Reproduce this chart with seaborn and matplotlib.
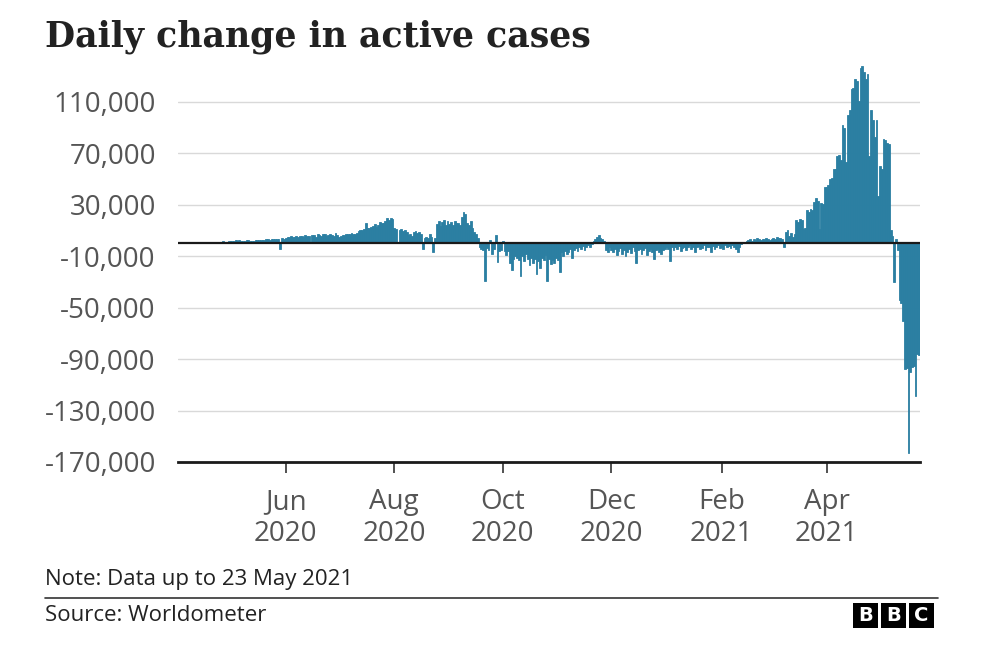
import numpy as np
import pandas as pd
import matplotlib
matplotlib.use("Agg")
import matplotlib.pyplot as plt
import seaborn as sns
from matplotlib.patches import Rectangle
from matplotlib.lines import Line2D

# ---- Daily change in active cases, 2 Apr 2020 - 23 May 2021 ----
apr_2020 = [200, 300, 400, 500, 450, 600, 500, 700, 600, 800,
            650, 900, 800, 700, 900, 1000, 1100, 900, 1200, 1300,
            1100, 1200, 1400, 1300, 1200, 1500, 1400, 1300, 1600]
may_2020 = [1600, 1800, 2000, 2300, 1900, 2400, 2100, 2200, 2000, 2500,
            2300, 2100, 1800, 2200, 2400, 2600, 2300, 2900, 2700, 2500,
            3000, 3200, 2800, 3400, 3300, 3100, 3500, 3600, -4400, 3800,
            3700]
jun_2020 = [4500, 5200, 4800, 5500, 5000, 4700, 5600, 5300, 6000, 5800,
            5200, 6200, 5900, 5400, 500, 6500, 6800, 5200, 7200, 6300,
            5800, 6900, 7400, 6100, 6700, 7500, 6200, 5400, 7800, 6600]
jul_2020 = [5200, 6000, 6800, 6500, 7200, 6900, 7400, 7800, 7000, 7600,
            8000, 9500, 10400, 10000, 10800, 15500, 12000, 11700, 12500, 13500,
            15000, 13000, 14500, 16800, 16000, 15800, 17500, 19400, 18000, 20000,
            19000]
aug_2020 = [11700, 11000, 800, 10500, 11200, 9500, 10000, 9000, 6500, 7000,
            6000, 8500, 9500, 8000, 9000, 7500, -4400, 4000, 5000, 4500,
            7000, 5000, -6500, 4200, 15000, 17500, 13500, 16500, 18000, 14000,
            17000]
sep_2020 = [15000, 16500, 14000, 17000, 15500, 16000, 14500, 20700, 24000, 22500,
            16000, 14500, 17000, 12000, 9000, 7500, 4000, -2600, -4000, -5000,
            -29000, -3500, -5500, 2800, -8300, -4000, 6500, -14800, -6000, -5500]
oct_2020 = [2000, -6000, -9000, -5700, -15000, -21000, -12000, -9500, -11000, -13000,
            -25000, -10000, -14000, -8300, -12000, -17000, -11000, -15000, -12000, -24000,
            -14000, -19000, -11000, -13000, -9000, -29000, -12000, -16000, -13000, -15000,
            -11000]
nov_2020 = [-13000, -22500, -7000, -9600, -5700, -8000, -6500, -4000, -11000, -5000,
            -3500, -5700, -3000, -4500, -2000, -5000, -3000, -1500, -2500, -500,
            1500, 3500, 5000, 6700, 4200, 3000, 1800, -5000, -7000, -3000]
dec_2020 = [-5000, -7000, -4000, -9000, -6000, -3500, -8000, -5000, -10000, -6500,
            -4500, -7500, -3000, -6000, -15000, -5500, -4000, -8000, -5000, -3500,
            -9000, -6000, -4500, -7000, -12000, -5000, -4000, -6500, -8000, -5500,
            -4500]
jan_2021 = [-3000, -4000, -13500, -2500, -5000, -3000, -4000, -2000, -6000, -3500,
            -2500, -5000, -3000, -1500, -4000, -2500, -7000, -3000, -2000, -4500,
            -3500, -1500, -5000, -2500, -3000, -6500, -2000, -4000, -3000, -1500,
            -3500]
feb_2021 = [-2500, -4000, -1500, -3000, -2000, -3500, -1000, -2500, -4500, -6500,
            -3000, -500, 300, 800, 1500, 2600, 3000, 2200, 3500, 2800,
            3900, 3200, 2600, 3600, 3000, 4200, 3500, 2800]
mar_2021 = [3500, 4500, 3000, 5000, 3800, 4200, 3600, -2600, 9000, 10000,
            6000, 7700, 5000, 7000, 18000, 16500, 19000, 18500, 11500, 12000,
            25600, 24000, 27000, 26000, 32000, 35000, 33000, 11500, 31000, 30500,
            43600]
apr_2021 = [43600, 45000, 50000, 51000, 57700, 58000, 68000, 69000, 65000, 92000,
            90000, 63000, 100000, 104000, 120000, 121000, 128000, 126000, 111000, 136000,
            138000, 133000, 128000, 132000, 68000, 104000, 96000, 83000, 96000, 37000]
may_2021 = [60000, 58000, 81000, 80000, 78000, 77000, 10000, 6000, -30000, 3000,
            -5000, -44000, -46000, -60000, -98000, -97000, -163000, -100000, -96000, -95000,
            -119000, -86000, -87000]

start_date = "2020-04-02"
month_ticks = ["2020-06-01", "2020-08-01", "2020-10-01", "2020-12-01", "2021-02-01", "2021-04-01"]
month_labels = ["Jun\n2020", "Aug\n2020", "Oct\n2020", "Dec\n2020", "Feb\n2021", "Apr\n2021"]
y_ticks = [110000, 70000, 30000, -10000, -50000, -90000, -130000, -170000]

title = "Daily change in active cases"
note = "Note: Data up to 23 May 2021"
source = "Source: Worldometer"

values = np.concatenate([apr_2020, may_2020, jun_2020, jul_2020, aug_2020, sep_2020,
                         oct_2020, nov_2020, dec_2020, jan_2021, feb_2021, mar_2021,
                         apr_2021, may_2021])
dates = pd.date_range(start_date, periods=len(values), freq="D")
days = np.asarray((dates - dates[0]).days)
df = pd.DataFrame({"day": days, "change": values})

sns.set_theme(style="white")
plt.rcParams["font.family"] = ["Open Sans", "DejaVu Sans"]

BAR = "#2b7fa2"
W, H = 987, 645
fig = plt.figure(figsize=(W / 100, H / 100), dpi=100)


def fx(px):
    return px / W


def fy(py):
    return 1 - py / H


ax = fig.add_axes([fx(178), fy(462), fx(920) - fx(178), fy(63.3) - fy(462)])
sns.barplot(data=df, x="day", y="change", native_scale=True, width=1.0,
            color=BAR, saturation=1, linewidth=0.6, edgecolor=BAR,
            errorbar=None, ax=ax)

ax.set_xlim(-0.5, len(values) - 0.5)
ax.set_ylim(-170000, 140000)
ax.set_xlabel("")
ax.set_ylabel("")

tick_pos = [(pd.Timestamp(t) - dates[0]).days for t in month_ticks]
ax.set_xticks(tick_pos)
ax.set_xticklabels(month_labels)
for lbl in ax.get_xticklabels():
    lbl.set_linespacing(1.18)

ax.set_yticks(y_ticks)
ax.set_yticklabels([f"{v:,}" for v in y_ticks])
ax.yaxis.grid(True, color="#d9d9d9", lw=1)
ax.xaxis.grid(False)
ax.set_axisbelow(True)
ax.axhline(0, color="#1a1a1a", lw=1.6, zorder=3)

for s in ["top", "right", "left"]:
    ax.spines[s].set_visible(False)
ax.spines["bottom"].set_color("#1a1a1a")
ax.spines["bottom"].set_linewidth(2)
ax.spines["bottom"].set_zorder(4)

ax.tick_params(axis="x", length=8, width=1.2, color="#333333", pad=11,
               labelsize=20, labelcolor="#555555", bottom=True)
ax.tick_params(axis="y", length=0, pad=16, labelsize=20, labelcolor="#555555")

fig.text(fx(45), fy(46), title, family=["DejaVu Serif"], weight="bold",
         size=25, color="#222222", va="baseline", ha="left")
fig.text(fx(45), fy(585), note, size=16, color="#222222", va="baseline", ha="left")
fig.add_artist(Line2D([fx(45), fx(938)], [fy(598), fy(598)], transform=fig.transFigure,
                      color="#333333", lw=1.2))
fig.text(fx(45), fy(621), source, size=16, color="#222222", va="baseline", ha="left")

for i, letter in enumerate("BBC"):
    x0 = 853 + i * 28
    fig.add_artist(Rectangle((fx(x0), fy(628)), 25 / W, 25 / H, transform=fig.transFigure,
                             facecolor="black", edgecolor="none"))
    fig.text(fx(x0 + 12.5), fy(615.5), letter, ha="center", va="center",
             color="white", weight="bold", size=14, family=["DejaVu Sans"])

fig.savefig("out.png", dpi=100, facecolor="white")
